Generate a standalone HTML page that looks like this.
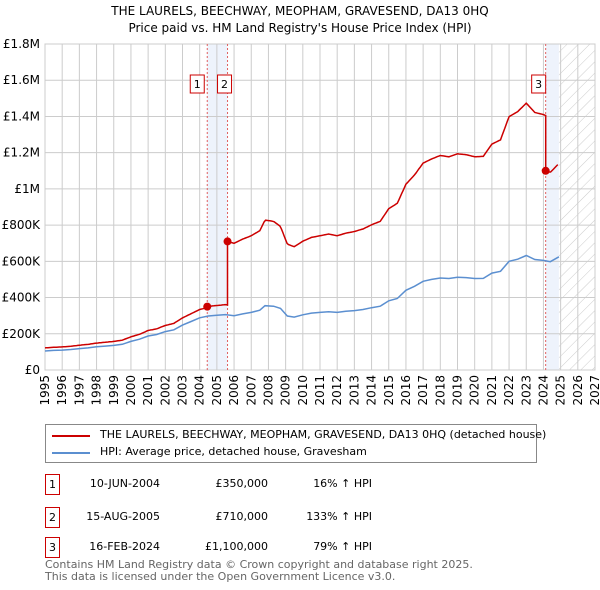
<!DOCTYPE html>
<html><head><meta charset="utf-8"><style>
body{margin:0;background:#fff;font-family:"DejaVu Sans","Liberation Sans",sans-serif;}
#wrap{position:relative;width:600px;height:590px;overflow:hidden}
.t{position:absolute;font-size:11px;color:#000;white-space:nowrap}
svg text{font-family:"DejaVu Sans","Liberation Sans",sans-serif}
</style></head><body><div id="wrap">
<div class="t" style="left:0;width:600px;text-align:center;top:4px;font-size:12px">THE LAURELS, BEECHWAY, MEOPHAM, GRAVESEND, DA13 0HQ</div>
<div class="t" style="left:0;width:600px;text-align:center;top:21px;font-size:12px">Price paid vs. HM Land Registry's House Price Index (HPI)</div>
<svg id="svg" width="600" height="420" style="position:absolute;left:0;top:0"></svg>
<div style="position:absolute;left:45px;top:424px;width:492px;height:39px;border:1px solid #888;box-sizing:border-box">
<div style="position:absolute;left:6px;top:10px;width:38px;height:2px;background:#cc0000"></div>
<div class="t" style="left:54px;top:3px;font-size:11px">THE LAURELS, BEECHWAY, MEOPHAM, GRAVESEND, DA13 0HQ (detached house)</div>
<div style="position:absolute;left:6px;top:27px;width:38px;height:2px;background:#5b8fd0"></div>
<div class="t" style="left:54px;top:20px;font-size:11px">HPI: Average price, detached house, Gravesham</div>
</div>
<div id="table"></div>
<div class="t" style="left:45px;top:559px;color:#666;font-size:11px;line-height:12px">Contains HM Land Registry data © Crown copyright and database right 2025.<br>This data is licensed under the Open Government Licence v3.0.</div>
</div>
<script>
const yTicks=[0,200000,400000,600000,800000,1000000,1200000,1400000,1600000,1800000];
const yTickLabels=["£0","£200K","£400K","£600K","£800K","£1M","£1.2M","£1.4M","£1.6M","£1.8M"];
const xYears=[1995,1996,1997,1998,1999,2000,2001,2002,2003,2004,2005,2006,2007,2008,2009,2010,2011,2012,2013,2014,2015,2016,2017,2018,2019,2020,2021,2022,2023,2024,2025,2026,2027];
const hpiT=[1995,1995.5,1996,1996.5,1997,1997.5,1998,1998.5,1999,1999.5,2000,2000.5,2001,2001.5,2002,2002.5,2003,2003.5,2004,2004.5,2005,2005.5,2006,2006.5,2007,2007.5,2007.8,2008.3,2008.7,2009.1,2009.5,2010,2010.5,2011,2011.5,2012,2012.5,2013,2013.5,2014,2014.5,2015,2015.5,2016,2016.5,2017,2017.5,2018,2018.5,2019,2019.5,2020,2020.5,2021,2021.5,2022,2022.5,2023,2023.5,2024,2024.4,2024.9];
const hpiV=[105,108,110,113,118,122,128,132,136,142,158,170,188,196,212,222,248,268,288,298,302,306,300,310,318,330,355,352,340,298,292,305,314,318,322,318,324,328,334,344,352,382,395,440,462,490,500,508,505,512,510,505,506,535,545,600,612,632,610,605,598,625];
const saleT=[2004.44,2005.62,2024.13];
const saleP=[350000,710000,1100000];
const saleDates=["10-JUN-2004","15-AUG-2005","16-FEB-2024"];
const saleLabels=["£350,000","£710,000","£1,100,000"];
const saleHpi=["16% ↑ HPI","133% ↑ HPI","79% ↑ HPI"];
const X0=45,X1=595,Y0=370,Y1=44;
const xs=t=>X0+(t-1995)/(2027-1995)*(X1-X0);
const ys=v=>Y0-v/1800000*(Y0-Y1);
const svg=document.getElementById('svg');const NS='http://www.w3.org/2000/svg';
function mk(tag,a,p){const e=document.createElementNS(NS,tag);for(const k in a)e.setAttribute(k,a[k]);(p||svg).appendChild(e);return e;}
function hpiAt(t){for(let i=0;i<hpiT.length-1;i++){if(t<=hpiT[i+1]){const f=(t-hpiT[i])/(hpiT[i+1]-hpiT[i]);return (hpiV[i]+f*(hpiV[i+1]-hpiV[i]))*1000;}}return hpiV[hpiV.length-1]*1000;}
let r=mk('rect',{x:xs(saleT[0]),y:Y1,width:xs(saleT[1])-xs(saleT[0]),height:Y0-Y1,fill:'#eef3fc'});
r=mk('rect',{x:xs(saleT[2]),y:Y1,width:xs(2024.9)-xs(saleT[2]),height:Y0-Y1,fill:'#eef3fc'});
const defs=mk('defs',{});const pat=mk('pattern',{id:'h',width:8,height:8,patternUnits:'userSpaceOnUse',patternTransform:'rotate(45)'},defs);mk('line',{x1:0,y1:0,x2:0,y2:8,stroke:'#ccc','stroke-width':1},pat);
r=mk('rect',{x:xs(2024.9),y:Y1,width:X1-xs(2024.9),height:Y0-Y1,fill:'url(#h)'});
yTicks.forEach((v,i)=>{const l=mk('line',{x1:X0,x2:X1,y1:ys(v),y2:ys(v),stroke:'#ccc'});
const t=mk('text',{x:X0-5,y:ys(v)+4,'text-anchor':'end','font-size':12,fill:'#000'});t.textContent=yTickLabels[i];});
xYears.forEach(y=>{const l=mk('line',{x1:xs(y),x2:xs(y),y1:Y1,y2:Y0,stroke:'#ccc'});
const t=mk('text',{x:0,y:0,'font-size':12,fill:'#000','text-anchor':'end',transform:`translate(${xs(y)+4},${Y0+5}) rotate(-90)`});t.textContent=y;});
let fr=mk('rect',{x:X0,y:Y1,width:X1-X0,height:Y0-Y1,fill:'none',stroke:'#ccc'});
saleT.forEach((t,i)=>{const l=mk('line',{x1:xs(t),x2:xs(t),y1:Y1,y2:Y0,stroke:'#e06060','stroke-dasharray':'2,2'});});
let d='';hpiT.forEach((t,i)=>{d+=(i?'L':'M')+xs(t).toFixed(1)+','+ys(hpiV[i]*1000).toFixed(1);});
let p=mk('path',{d,fill:'none',stroke:'#5b8fd0','stroke-width':1.5});
const ratio0=1.16;let pts=[];
for(let t=1995;t<=2024.9;t+=1/12){let v;
 if(t<saleT[0])v=hpiAt(t)*ratio0;
 else{let k=0;for(let j=0;j<saleT.length;j++)if(t>=saleT[j])k=j;v=saleP[k]*hpiAt(t)/hpiAt(saleT[k]);}
 pts.push([t,v]);}
saleT.forEach((t,k)=>{const pv=k==0?hpiAt(t)*ratio0:saleP[k-1]*hpiAt(t)/hpiAt(saleT[k-1]);pts.push([t-0.001,pv]);pts.push([t,saleP[k]]);});
pts.sort((a,b)=>a[0]-b[0]);
d='';pts.forEach((q,i)=>{d+=(i?'L':'M')+xs(q[0]).toFixed(1)+','+ys(q[1]).toFixed(1);});
p=mk('path',{d,fill:'none',stroke:'#cc0000','stroke-width':1.5});
saleT.forEach((t,i)=>{const c=mk('circle',{cx:xs(t),cy:ys(saleP[i]),r:4,fill:'#cc0000'});
const bx=i==0?xs(t)-17:(i==1?xs(t)-10:xs(t)-14);
const g=mk('g',{});
mk('rect',{x:bx,y:75,width:14,height:18,fill:'#fff',stroke:'#cc0000'},g);const tx=mk('text',{x:bx+7,y:88,'text-anchor':'middle','font-size':11},g);tx.textContent=i+1;});
const tb=document.getElementById('table');const rowsY=[474,507,537];
saleT.forEach((t,i)=>{const row=document.createElement('div');
row.style.cssText=`position:absolute;left:0;top:${rowsY[i]}px;width:600px;height:20px`;
row.innerHTML=`<div style="position:absolute;left:45px;top:0;width:13px;height:19px;border:1px solid #cc0000;font-size:11px;text-align:center;line-height:19px">${i+1}</div>
<div class="t" style="left:60px;width:100px;text-align:right;top:3px">${saleDates[i]}</div>
<div class="t" style="left:170px;width:98px;text-align:right;top:3px">${saleLabels[i]}</div>
<div class="t" style="left:280px;width:92px;text-align:right;top:3px">${saleHpi[i]}</div>`;
tb.appendChild(row);});
</script></body></html>
